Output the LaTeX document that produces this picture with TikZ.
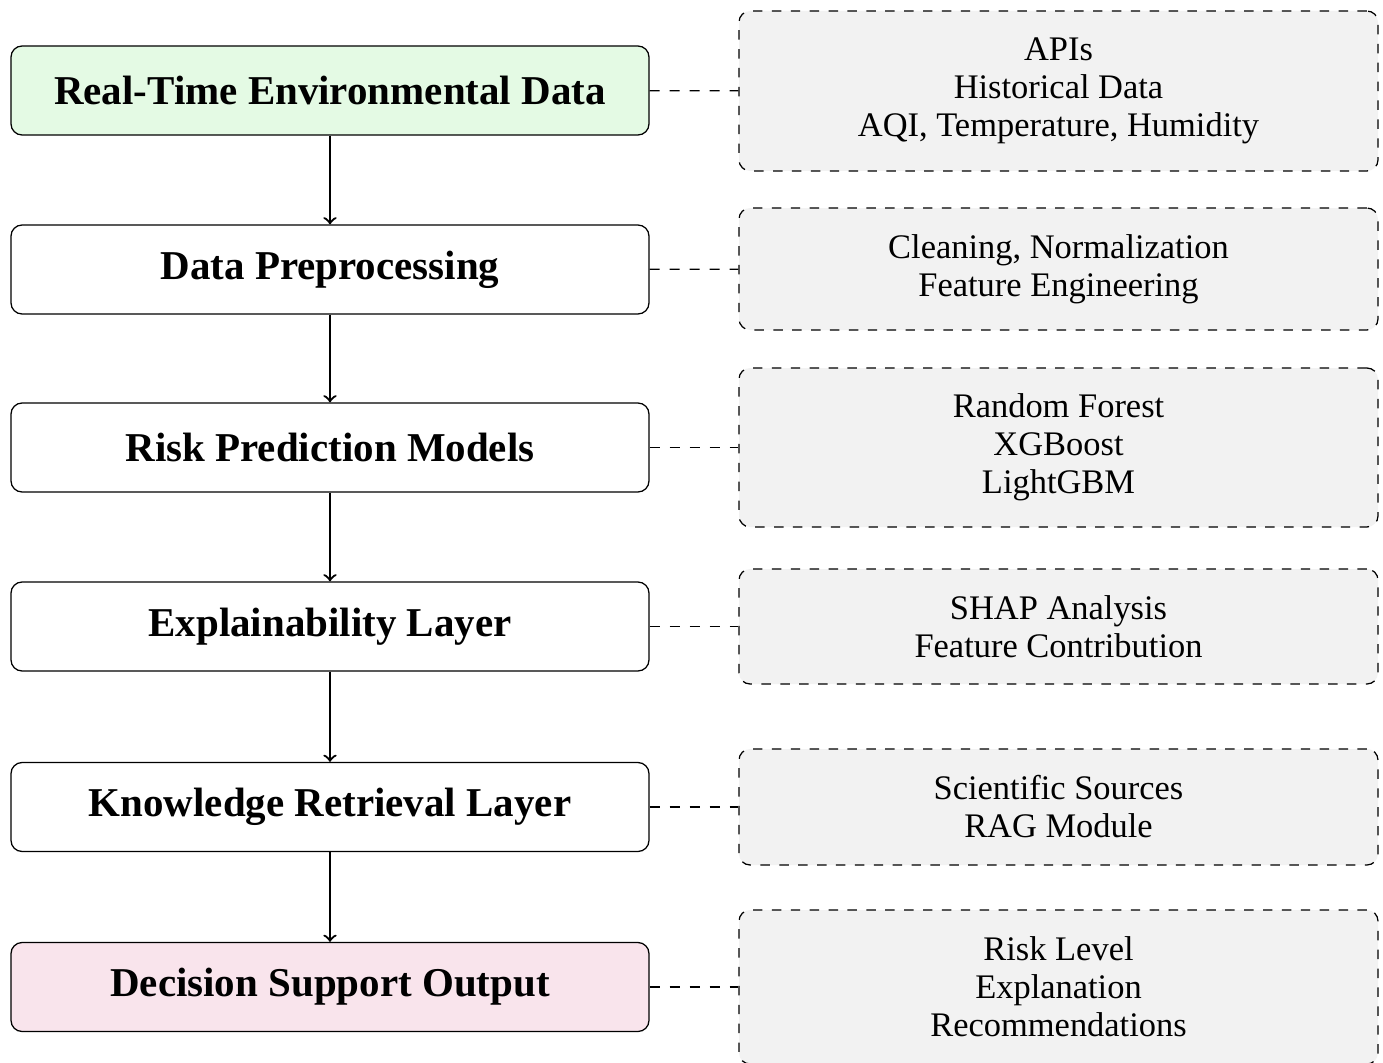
\documentclass[tikz,border=0pt]{standalone}
\usepackage{fontspec}
\setmainfont{Liberation Serif}
\definecolor{startfill}{RGB}{228,250,228}
\definecolor{endfill}{RGB}{249,228,236}
\definecolor{sidefill}{RGB}{242,242,242}
\begin{document}
\begin{tikzpicture}[x=0.36pt,y=-0.36pt,
  mainbox/.style={draw, rounded corners=4pt, line width=0.45pt, minimum width=638*0.36pt, minimum height=89*0.36pt, font=\fontsize{14.75pt}{17pt}\selectfont\bfseries, align=center, inner sep=0pt},
  sidebox/.style={draw, dash pattern=on 3.4pt off 3.4pt, rounded corners=4pt, line width=0.45pt, fill=sidefill, minimum width=639*0.36pt, font=\fontsize{12.4pt}{13.7pt}\selectfont, align=center, inner sep=0pt},
  flow/.style={->, line width=0.8pt},
  link/.style={dash pattern=on 3.6pt off 3.6pt, line width=0.45pt}]
\useasboundingbox (0,0) rectangle (1383,1063);
\node[mainbox, fill=startfill] (m1) at (330,90.5) {Real-Time Environmental Data};
\node[mainbox] (m2) at (330,269.5) {Data Preprocessing};
\node[mainbox] (m3) at (330,447.5) {Risk Prediction Models};
\node[mainbox] (m4) at (330,626.5) {Explainability Layer};
\node[mainbox] (m5) at (330,807) {Knowledge Retrieval Layer};
\node[mainbox, fill=endfill] (m6) at (330,987) {Decision Support Output};

\node[sidebox, minimum height=160*0.36pt] (s1) at (1058.5,91) {APIs\\Historical Data\\AQI, Temperature, Humidity};
\node[sidebox, minimum height=122*0.36pt] (s2) at (1058.5,269) {Cleaning, Normalization\\Feature Engineering};
\node[sidebox, minimum height=159*0.36pt] (s3) at (1058.5,447.5) {Random Forest\\XGBoost\\LightGBM};
\node[sidebox, minimum height=115*0.36pt] (s4) at (1058.5,626.5) {SHAP Analysis\\Feature Contribution};
\node[sidebox, minimum height=116*0.36pt] (s5) at (1058.5,807) {Scientific Sources\\RAG Module};
\node[sidebox, minimum height=154*0.36pt] (s6) at (1058.5,987) {Risk Level\\Explanation\\Recommendations};

\draw[flow] (m1) -- (m2);
\draw[flow] (m2) -- (m3);
\draw[flow] (m3) -- (m4);
\draw[flow] (m4) -- (m5);
\draw[flow] (m5) -- (m6);

\draw[link] (m1) -- (s1);
\draw[link] (m2) -- (s2);
\draw[link] (m3) -- (s3);
\draw[link] (m4) -- (s4);
\draw[link] (m5) -- (s5);
\draw[link] (m6) -- (s6);
\end{tikzpicture}
\end{document}
